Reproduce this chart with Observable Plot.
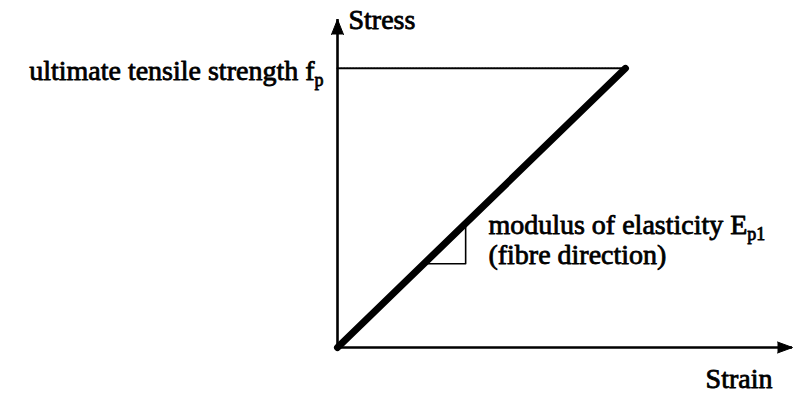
<!DOCTYPE html>
<html><head><meta charset="utf-8">
<script src="https://cdn.jsdelivr.net/npm/d3@7"></script>
<script src="https://cdn.jsdelivr.net/npm/@observablehq/plot@0.6"></script>
<style>body{margin:0;background:#fff} svg{display:block}</style>
</head><body><div id="chart"></div>
<script>
// Schematic stress–strain diagram (arbitrary units)
const strain = [0, 1];              // origin -> ultimate
const stress = [0, 1];
const axisStrainMax = 1.58;         // extent of strain axis
const axisStressMax = 1.175;        // extent of stress axis
const slopeStrain = [0.3, 0.445, 0.445];
const slopeStress = [0.3, 0.3, 0.445];
const labelUltimate = "ultimate tensile strength f_p";
const labelModulus = ["modulus of elasticity E_p1", "(fibre direction)"];
const labelStress = "Stress";
const labelStrain = "Strain";

const curve = strain.map((s, i) => ({strain: s, stress: stress[i]}));
const ult = curve[curve.length - 1];
const slope = slopeStrain.map((s, i) => ({strain: s, stress: slopeStress[i]}));

const font = {fontFamily: "Liberation Serif", fontSize: 28, fill: "black", stroke: "black", strokeWidth: 0.8};

const chart = Plot.plot({
  width: 793, height: 394,
  marginLeft: 337, marginRight: 1, marginTop: 19, marginBottom: 47,
  x: {domain: [0, axisStrainMax], axis: null},
  y: {domain: [0, axisStressMax], axis: null},
  style: {background: "white", overflow: "visible", fontFamily: "Liberation Serif"},
  marks: [
    // axes
    Plot.ruleY([0], {x1: 0, x2: axisStrainMax, stroke: "black", strokeWidth: 2.6}),
    Plot.ruleX([0], {y1: 0, y2: axisStressMax, stroke: "black", strokeWidth: 2.6}),
    Plot.vector([{x: axisStrainMax, y: 0}], {x: "x", y: "y", shape: "spike", anchor: "end", length: 15, r: 5.5, rotate: 90, fill: "black", stroke: "black", strokeWidth: 1}),
    Plot.vector([{x: 0, y: axisStressMax}], {x: "x", y: "y", shape: "spike", anchor: "end", length: 15, r: 6, rotate: 0, fill: "black", stroke: "black", strokeWidth: 1}),
    // dotted line to ultimate strength
    Plot.line([{strain: 0, stress: ult.stress}, ult], {x: "strain", y: "stress", stroke: "black", strokeWidth: 2, strokeDasharray: "1.5,1.5"}),
    // slope triangle
    Plot.line(slope, {x: "strain", y: "stress", stroke: "black", strokeWidth: 1.6}),
    // stress-strain line
    Plot.line(curve, {x: "strain", y: "stress", stroke: "black", strokeWidth: 7, strokeLinecap: "round"}),
    // labels
    Plot.text([labelStress], {x: 0, y: axisStressMax, text: d => d, textAnchor: "start", lineAnchor: "bottom", dx: 11, dy: 9, ...font}),
    Plot.text([labelUltimate], {x: 0, y: ult.stress, text: d => d, textAnchor: "end", lineAnchor: "bottom", dx: -14, dy: 12, ...font}),
    Plot.text([labelModulus[0]], {x: 0.524, y: 0.405, text: d => d, textAnchor: "start", lineAnchor: "bottom", ...font}),
    Plot.text([labelModulus[1]], {x: 0.524, y: 0.30, text: d => d, textAnchor: "start", lineAnchor: "bottom", ...font}),
    Plot.text([labelStrain], {x: axisStrainMax, y: 0, text: d => d, textAnchor: "end", lineAnchor: "bottom", dx: -20, dy: 40, ...font})
  ]
});

// render subscripts (text after "_")
d3.select(chart).selectAll("text").each(function() {
  const t = this.textContent;
  const i = t.indexOf("_");
  if (i < 0) return;
  const el = d3.select(this);
  el.text(t.slice(0, i));
  el.append("tspan").attr("dy", 6).attr("font-size", 18).text(t.slice(i + 1));
});

document.getElementById("chart").appendChild(chart);
</script>
</body></html>
